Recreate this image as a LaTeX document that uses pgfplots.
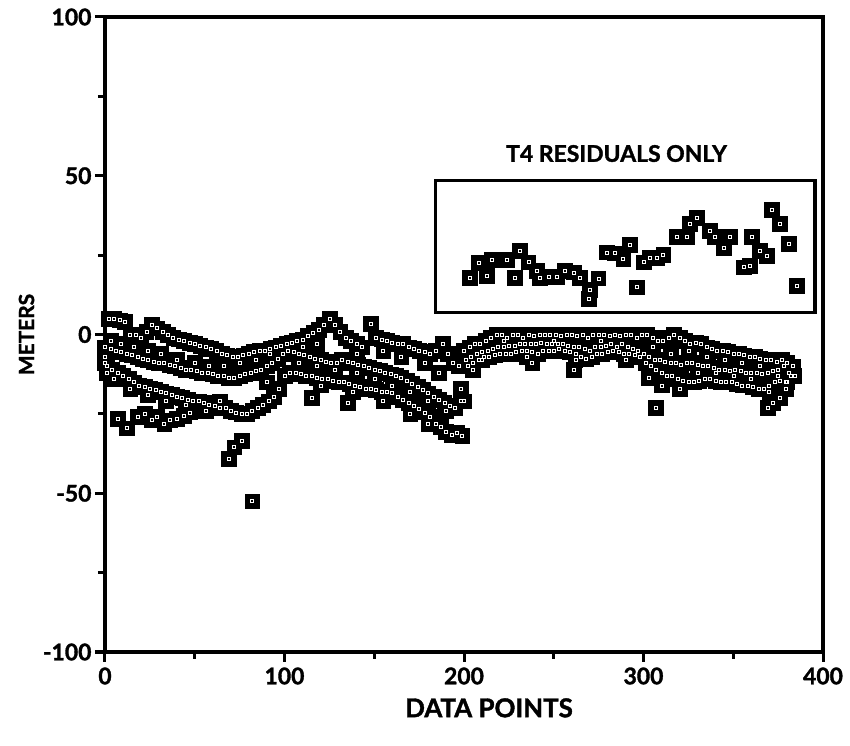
\documentclass[border=0pt]{standalone}
\usepackage{pgfplots}
\pgfplotsset{compat=1.18}
\usepackage{pgfplotstable}
\usepackage{fontspec}
\setmainfont{Lato}[BoldFeatures={FakeBold=1.5}]

\pgfplotstableread{
x y
2 5
5 5
8 4.5
11 4
14 0
17 0
20 -1
23 1
26 3
29 2
32 1
35 0
38 -1
41 -1.5
44 -2
47 -2.5
50 -3
53 -3.5
56 -4
59 -4.5
62 -5
65 -6
68 -6.5
71 -7
74 -7
77 -6.5
80 -6
83 -5.5
86 -5
89 -5
92 -4.5
95 -4
98 -3.5
101 -3
104 -2.5
107 -2
110 -1.5
113 -0.5
116 0.5
119 1.5
122 3
125 5
128 3
131 1
134 -1
137 -2
140 -3
143 -4
148 3.5
151 -1
154 -1.5
157 -2
160 -2.5
163 -3
166 -3
169 -4
172 -4.5
175 -5
178 -5.5
181 -6
184 -5
188 -3
191 -6
194 -9
197 -10
200 -5
203 -4
206 -3
209 -3
212 -2
215 -1
218 0
221 0
224 -1
227 0
230 0
233 -1
236 0
239 -0.5
242 0
245 0
248 0
251 0
254 -0.5
257 0
260 0
263 -0.5
266 0
269 -1
272 0
275 0
278 0
281 -0.5
284 0
287 -0.5
290 0
293 0
296 -1
299 0
302 0
305 -1
308 -2
311 -2
314 -1
317 0
320 -1
323 -2
326 -3
329 -2.5
332 -3
335 -4
338 -4.5
341 -5
344 -5
347 -5.5
350 -6
353 -6
356 -6.5
359 -7
362 -7
365 -7.5
368 -8
371 -8
374 -8.5
377 -8
380 -9
383 -10
0 -4
3 -4.5
6 -5
9 -5.5
12 -6
15 -6.5
18 -7
21 -7.5
24 -8
27 -8.5
30 -9
33 -9
36 -9.5
39 -10
42 -10.5
45 -11
48 -11
51 -11.5
54 -12
57 -12
60 -12.5
63 -13
66 -13
69 -13.5
72 -13.5
75 -13
78 -12.5
81 -12
84 -11.5
87 -11
90 -10
93 -9
96 -7.5
99 -6
102 -5
105 -5.5
108 -6
111 -6.5
114 -7
117 -7.5
120 -8
123 -8.5
126 -9
129 -9
132 -8
135 -8.5
138 -9
141 -9.5
144 -10
147 -10.5
150 -11
153 -11.5
156 -12
159 -12.5
162 -13
165 -13.5
168 -14.5
171 -15.5
174 -16.5
177 -17.5
180 -18.5
183 -19.5
186 -20.5
189 -21.5
192 -22.5
195 -23
198 -21
201 -8
204 -7
207 -6
210 -5.5
213 -5
216 -4.5
219 -4
222 -4
225 -3.5
228 -3.5
231 -3
234 -3
237 -3
240 -3
243 -2.5
246 -3
249 -3
252 -3
255 -3
258 -3.5
261 -4
264 -4
267 -4.5
270 -5
273 -4
276 -4
279 -3.5
282 -3
285 -4
288 -3
291 -4
294 -4.5
297 -5
300 -6
303 -7
306 -8
309 -8
312 -8.5
315 -9
318 -9
321 -9.5
324 -9
327 -9
330 -9.5
333 -10
336 -10
339 -10.5
342 -11
345 -11
348 -11.5
351 -11
354 -11.5
357 -12
360 -12
363 -12
366 -12.5
369 -12
372 -11.5
375 -11
378 -10
381 -12
384 -13
1 -10
4 -11
7 -12
10 -13
13 -14
16 -15
19 -16
22 -16.5
25 -17
28 -17.5
31 -18
34 -18.5
37 -19
40 -19.5
43 -20
46 -20.5
49 -21
52 -21
55 -21.5
58 -22
61 -22.5
64 -23
67 -23
70 -24
73 -24.5
76 -25
79 -25
82 -24
85 -23
88 -22
91 -21
94 -19.5
97 -17
100 -13
103 -12
106 -12
109 -12.5
112 -13
115 -13
118 -13.5
121 -14
124 -14
127 -14.5
130 -15
133 -15
136 -15.5
139 -16
142 -16.5
145 -17
148 -17
151 -17.5
154 -18
157 -18
160 -18.5
163 -19.5
166 -20.5
169 -21.5
172 -22.5
175 -23.5
178 -24.5
181 -26
184 -28
187 -29
190 -30.5
193 -31.5
196 -31
199 -32
202 -10
205 -9
208 -8
211 -7
214 -7
217 -6.5
220 -6
223 -6
226 -6
229 -5.5
232 -5
235 -5
238 -5.5
241 -6
244 -5
247 -5
250 -5
253 -4.5
256 -5
259 -5.5
262 -6
265 -7
268 -7.5
271 -7
274 -6
277 -6
280 -5.5
283 -5
286 -5.5
289 -6
292 -6
295 -6.5
298 -7
301 -9
304 -10
307 -11
310 -12
313 -13
316 -13
319 -14
322 -14.5
325 -15
328 -15
331 -14.5
334 -14
337 -14
340 -14.5
343 -15
346 -15
349 -15
352 -15.5
355 -16
358 -16
361 -16.5
364 -17
367 -17
370 -16
373 -15
376 -14.5
379 -15
382 -13
0 -7
0 -9
1 -12
7 -26.5
12 -29.5
18 -26
22 -25
26 -27
29 -26
33 -28
36 -27
40 -26.5
44 -25.5
47 -24.5
69 -39
72 -35.5
76 -33.5
82 -52.5
115 -20
135 -21.5
198 -17
200 -21
205 -11
238 -9
261 -11
303 -13.5
307 -23
369 -23
372 -21.5
376 -20
379 -17
3 -2
9 -3
16 -4
24 -5
31 -6
40 -8
50 -9
58 -10
66 -10
75 -9
84 -8
92 -6
5 -14
14 -17
24 -19
34 -21
45 -22
56 -24
64 -21
90 -15
108 -9
118 -10
128 -11
140 -12
150 -14
160 -16
170 -18
180 -21
190 -24
110 -4
118 -3
140 -6
155 -5
165 -7
178 -9
186 -12
120 -16
138 -18
155 -21
170 -25
180 -28
210 -8
222 -2
235 -7
250 -2
262 -8
276 -2
290 -8
305 -4
315 -6
325 -5
335 -7
345 -8
355 -9
365 -10
375 -13
310 -16
320 -17
330 -12
340 -12
350 -13
360 -14
370 -18
380 -15
}\maindata

\pgfplotstableread{
x y
203.3 18.0
208.0 22.5
212.6 18.6
215.4 23.5
223.8 23.5
228.4 18.0
231.2 26.5
235.8 22.8
240.5 20.2
242.3 18.0
247.0 18.3
251.6 18.3
256.3 20.2
260.9 19.6
264.6 17.9
269.3 11.2
270.2 14.1
274.8 17.7
279.5 25.9
284.1 25.6
288.7 23.8
292.5 28.3
296.2 14.9
299.9 22.8
303.6 24.2
307.3 24.2
311.0 25.2
318.5 30.9
324.0 30.9
325.9 34.9
329.6 36.9
337.0 32.8
339.8 30.9
344.5 27.3
348.2 30.9
355.6 21.2
359.3 21.7
360.2 30.9
364.9 26.5
368.6 24.9
371.4 39.3
376.0 34.9
380.7 28.6
385.3 15.4
}\insetdata

\begin{document}
\begin{tikzpicture}
\begin{axis}[name=ax,
  scale only axis, width=718bp, height=635bp,
  xmin=0, xmax=400, ymin=-100, ymax=100,
  axis lines=box,
  axis line style={line width=3.6bp},
  xtick={0,100,200,300,400}, ytick={-100,-50,0,50,100},
  xticklabels={0,100,200,300,400}, yticklabels={-100,-50,0,50,100},
  minor xtick={50,150,250,350}, minor ytick={-75,-25,25,75},
  tick align=outside, tick pos=left,
  major tick length=10bp, minor tick length=7bp,
  major tick style={line width=3bp, black},
  minor tick style={line width=3bp, black},
  ticklabel style={font=\fontsize{23}{23}\selectfont\bfseries},
  xticklabel style={yshift=-2bp},
  xlabel={DATA POINTS}, ylabel={METERS},
  xlabel style={font=\fontsize{26}{26}\selectfont\bfseries, yshift=-7bp, xshift=25bp},
  ylabel style={font=\fontsize{21}{21}\selectfont\bfseries, yshift=2bp},
  clip=false,
]
\addplot[only marks, mark=square*, mark size=7.4bp, mark options={fill=black, draw=black, line width=0.4bp}] table {\maindata};
\addplot[only marks, mark=square, mark size=1.5bp, mark options={draw=white, line width=0.5bp}] table {\maindata};
\addplot[only marks, mark=square*, mark size=7.4bp, mark options={fill=black, draw=black, line width=0.4bp}] table {\insetdata};
\addplot[only marks, mark=square, mark size=1.5bp, mark options={draw=white, line width=0.5bp}] table {\insetdata};
\draw[line width=3.4bp] (axis cs:184,7) rectangle (axis cs:395.5,48.5);
\node[font=\fontsize{23}{23}\selectfont\bfseries] at (axis cs:285,57) {T4 RESIDUALS ONLY};
\end{axis}
\path ([shift={(-105bp,-94bp)}]ax.south west) rectangle ([shift={(27bp,17bp)}]ax.north east);
\end{tikzpicture}
\end{document}
